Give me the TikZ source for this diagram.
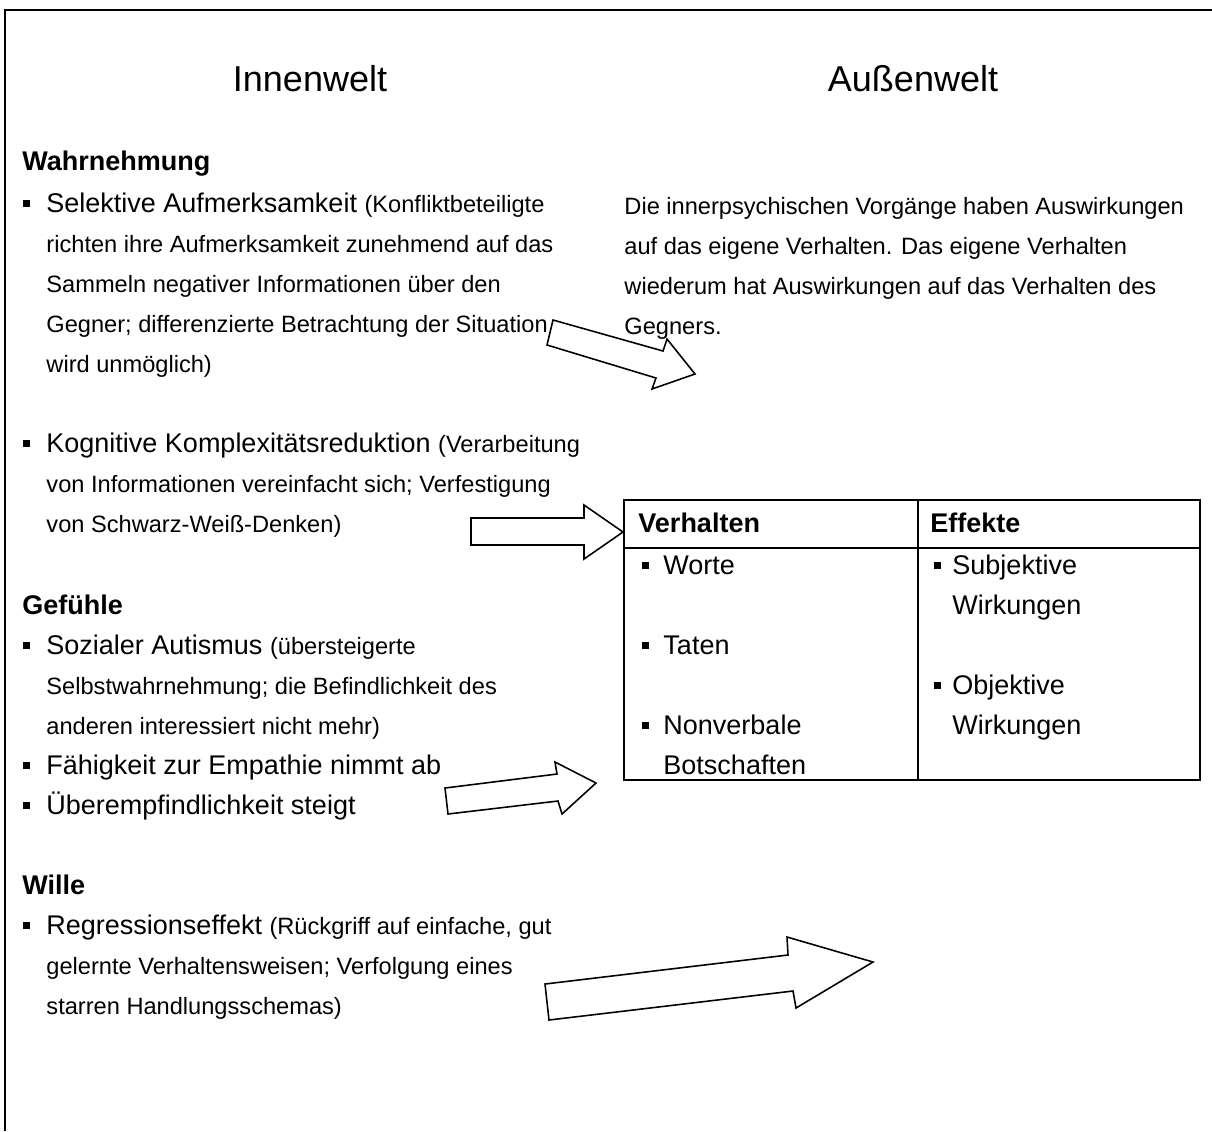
\documentclass[tikz,border=0pt]{standalone}
\usepackage{fontspec}
\setmainfont{Liberation Sans}
\newcommand\smtxt{\fontsize{10.5}{12}\selectfont}
\begin{document}
\begin{tikzpicture}[x=0.44444pt, y=-0.44444pt,
  line/.style={anchor=base west, inner sep=0pt, font=\fontsize{12}{14}\selectfont},
  sline/.style={anchor=base west, inner sep=0pt, font=\fontsize{10.5}{12}\selectfont},
  head/.style={anchor=base west, inner sep=0pt, font=\fontsize{12}{14}\selectfont\bfseries},
  title/.style={anchor=base, inner sep=0pt, font=\fontsize{16}{19}\selectfont},
  frameline/.style={line width=0.9pt},
  tableline/.style={line width=0.85pt},
  blockarrow/.style={draw, fill=white, line width=0.7pt, line join=miter},
  bulletsq/.style={fill=black}
]
\useasboundingbox (0,0) rectangle (1212,1131);
\fill[white] (0,0) rectangle (1212,1131);

% frame
\draw[frameline] (1212,10) -- (5,10) -- (5,1131);

% titles
\node[title] (tin) at (310,91) {Innenwelt};
\node[title] (tout) at (913,91) {Außenwelt};

% Wahrnehmung
\node[head] (hw) at (22,170) {Wahrnehmung};
\fill[bulletsq] (22.5,199.5) rectangle (29.5,206.5);
\node[line] (w1) at (46,212) {Selektive Aufmerksamkeit {\smtxt(Konfliktbeteiligte}};
\node[sline] (w2) at (46,252) {richten ihre Aufmerksamkeit zunehmend auf das};
\node[sline] (w3) at (46,292) {Sammeln negativer Informationen über den};
\node[sline] (w4) at (46,332) {Gegner; differenzierte Betrachtung der Situation};
\node[sline] (w5) at (46,372) {wird unmöglich)};

\fill[bulletsq] (22.5,439.5) rectangle (29.5,446.5);
\node[line] (k1) at (46,452) {Kognitive Komplexitätsreduktion {\smtxt(Verarbeitung}};
\node[sline] (k2) at (46,492) {von Informationen vereinfacht sich; Verfestigung};
\node[sline] (k3) at (46,532) {von Schwarz-Weiß-Denken)};

% Gefuehle
\node[head] (hg) at (22,614) {Gefühle};
\fill[bulletsq] (22.5,641.5) rectangle (29.5,648.5);
\node[line] (g1) at (46,654) {Sozialer Autismus {\smtxt(übersteigerte}};
\node[sline] (g2) at (46,694) {Selbstwahrnehmung; die Befindlichkeit des};
\node[sline] (g3) at (46,734) {anderen interessiert nicht mehr)};
\fill[bulletsq] (22.5,761.5) rectangle (29.5,768.5);
\node[line] (g4) at (46,774) {Fähigkeit zur Empathie nimmt ab};
\fill[bulletsq] (22.5,801.5) rectangle (29.5,808.5);
\node[line] (g5) at (46,814) {Überempfindlichkeit steigt};

% Wille
\node[head] (hwi) at (22,894) {Wille};
\fill[bulletsq] (22.5,921.5) rectangle (29.5,928.5);
\node[line] (r1) at (46,934) {Regressionseffekt {\smtxt(Rückgriff auf einfache, gut}};
\node[sline] (r2) at (46,974) {gelernte Verhaltensweisen; Verfolgung eines};
\node[sline] (r3) at (46,1014) {starren Handlungsschemas)};

% block arrows
\draw[blockarrow] (553,320) -- (663,351) -- (667,339) -- (695,374) -- (652,389) -- (656,378) -- (547,345) -- cycle;
\draw[blockarrow] (471,518) -- (584,518) -- (584,505) -- (623,532) -- (584,559) -- (584,545) -- (471,545) -- cycle;
\draw[blockarrow] (445,788) -- (557,774) -- (555,762) -- (596,783) -- (562,814) -- (558,801) -- (448,814) -- cycle;
\draw[blockarrow] (545,984) -- (788,955) -- (787,937) -- (873,962) -- (796,1008) -- (793,991) -- (549,1020) -- cycle;

% right text
\node[sline] (a1) at (624,214) {Die innerpsychischen Vorgänge haben Auswirkungen};
\node[sline] (a2) at (624,254) {auf das eigene Verhalten. Das eigene Verhalten};
\node[sline] (a3) at (624,294) {wiederum hat Auswirkungen auf das Verhalten des};
\node[sline] (a4) at (624,334) {Gegners.};

% table
\draw[tableline] (624,500) rectangle (1200,780);
\draw[tableline] (624,548) -- (1200,548);
\draw[tableline] (918,500) -- (918,780);
\node[head] (tv) at (638,532) {Verhalten};
\node[head] (te) at (930,532) {Effekte};
\fill[bulletsq] (642,561.5) rectangle (649,568.5);
\node[line] (v1) at (663,574) {Worte};
\fill[bulletsq] (642,641.5) rectangle (649,648.5);
\node[line] (v2) at (663,654) {Taten};
\fill[bulletsq] (642,721.5) rectangle (649,728.5);
\node[line] (v3) at (663,734) {Nonverbale};
\node[line] (v4) at (663,774) {Botschaften};
\fill[bulletsq] (934,561.5) rectangle (941,568.5);
\node[line] (e1) at (952,574) {Subjektive};
\node[line] (e2) at (952,614) {Wirkungen};
\fill[bulletsq] (934,681.5) rectangle (941,688.5);
\node[line] (e3) at (952,694) {Objektive};
\node[line] (e4) at (952,734) {Wirkungen};
\end{tikzpicture}
\end{document}
